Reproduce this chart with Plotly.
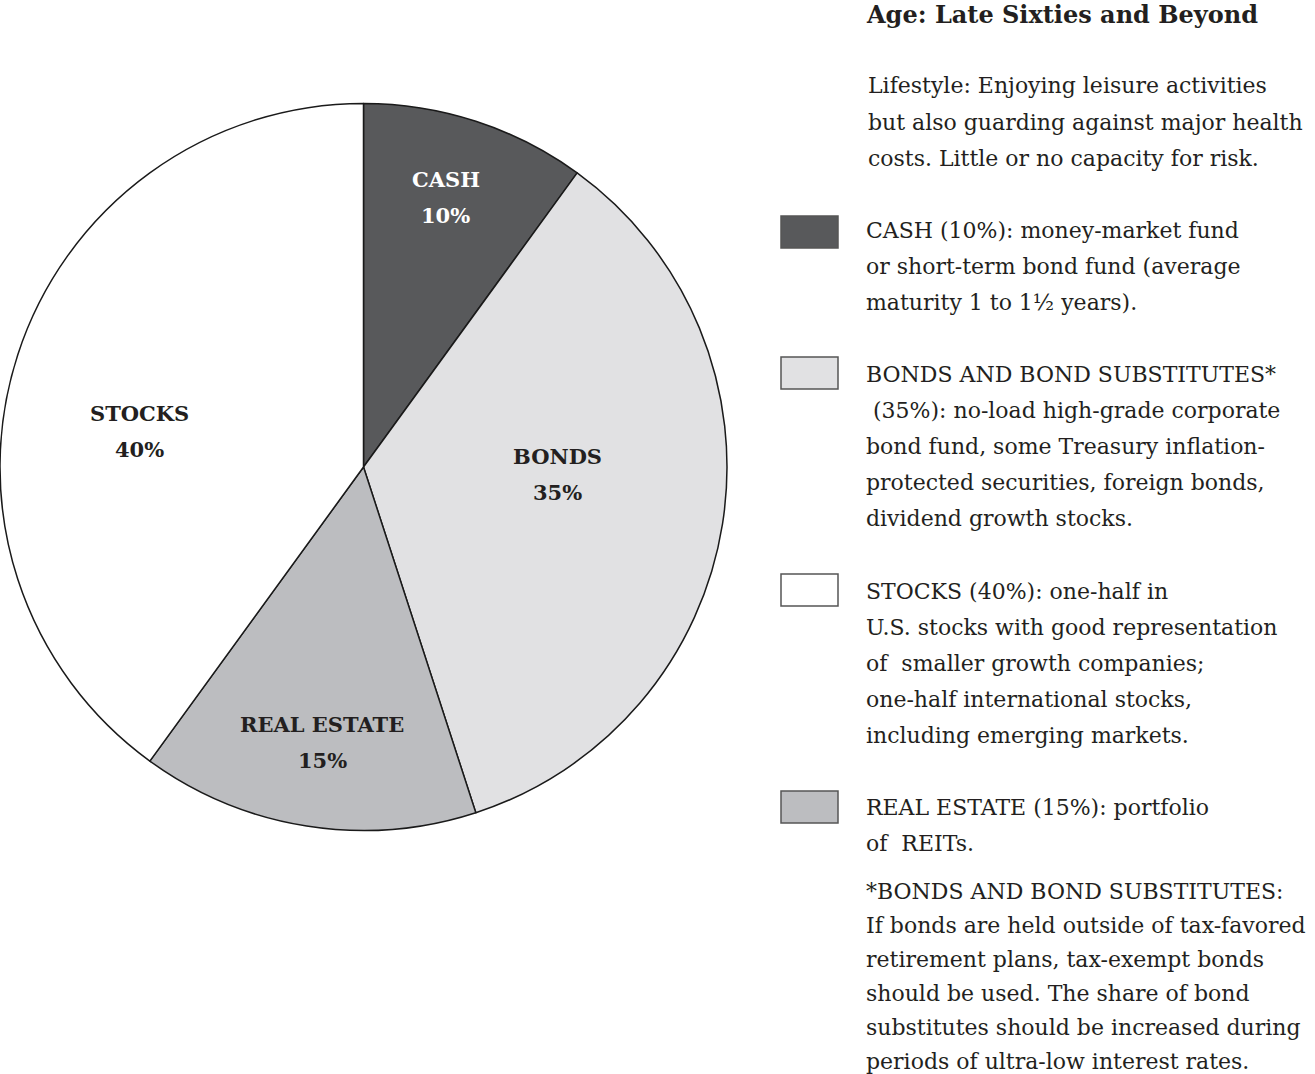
import math
import plotly.graph_objects as go

# ---- data ----
categories = ["CASH", "BONDS", "REAL ESTATE", "STOCKS"]
values = [10, 35, 15, 40]
colors = ["#58595b", "#e1e1e3", "#bcbdc0", "#ffffff"]

title_text = "Age: Late Sixties and Beyond"
lifestyle_lines = [
    "Lifestyle: Enjoying leisure activities",
    "but also guarding against major health",
    "costs. Little or no capacity for risk.",
]
legend_blocks = [
    ["CASH (10%): money-market fund",
     "or short-term bond fund (average",
     "maturity 1 to 1½ years)."],
    ["BONDS AND BOND SUBSTITUTES*",
     " (35%): no-load high-grade corporate",
     "bond fund, some Treasury inflation-",
     "protected securities, foreign bonds,",
     "dividend growth stocks."],
    ["STOCKS (40%): one-half in",
     "U.S. stocks with good representation",
     "of  smaller growth companies;",
     "one-half international stocks,",
     "including emerging markets."],
    ["REAL ESTATE (15%): portfolio",
     "of  REITs."],
]
legend_order = [0, 1, 3, 2]  # index into categories for each legend block
footnote_lines = [
    "*BONDS AND BOND SUBSTITUTES:",
    "If bonds are held outside of tax-favored",
    "retirement plans, tax-exempt bonds",
    "should be used. The share of bond",
    "substitutes should be increased during",
    "periods of ultra-low interest rates.",
]

# ---- layout / style constants ----
W, H = 1315, 1074
FONT = "DejaVu Serif"
TXT = "#231f20"
cx, cy, R = 363.5, 467, 363.5
label_r = [0.776, 0.534, 0.765, 0.624]       # label radius as fraction of R
label_dang = [-1.1, -6.9, -0.5, -9.1]        # angular offset from slice middle (deg)
BODY = 22


def py(y):
    return 1 - y / H


fig = go.Figure()
fig.add_trace(go.Pie(
    labels=categories, values=values, sort=False, direction="clockwise",
    rotation=0, marker=dict(colors=colors, line=dict(color="#1a1a1a", width=1.5)),
    textinfo="none", hoverinfo="label+percent", showlegend=False,
    domain=dict(x=[(cx - R) / W, (cx + R) / W], y=[py(cy + R), py(cy - R)]),
))

annotations = []
total = sum(values)
cum = 0
for i, (c, v) in enumerate(zip(categories, values)):
    mid = (cum + v / 2) / total * 360 + label_dang[i]
    cum += v
    a = math.radians(mid)
    lx = cx + label_r[i] * R * math.sin(a)
    ly = cy - label_r[i] * R * math.cos(a)
    col = "#ffffff" if i == 0 else TXT
    for txt, dy in ((c, -18), (f"{v}%", 18)):
        annotations.append(dict(
            x=lx / W, y=py(ly + dy), xref="paper", yref="paper", showarrow=False,
            xanchor="center", yanchor="middle", text=f"<b>{txt}</b>",
            font=dict(family=FONT, size=21, color=col)))


def add_line(text, x, y, size=BODY, bold=False):
    annotations.append(dict(
        x=x / W, y=py(y), xref="paper", yref="paper", showarrow=False,
        xanchor="left", yanchor="middle",
        text=f"<b>{text}</b>" if bold else text,
        font=dict(family=FONT, size=size, color=TXT)))


add_line(title_text, 864, 14, size=24, bold=True)
for k, t in enumerate(lifestyle_lines):
    add_line(t, 866, 86 + 36 * k)

block_tops = [230, 374, 591, 807]
swatch_tops = [216, 357, 574, 791]
shapes = []
for b, lines in enumerate(legend_blocks):
    for k, t in enumerate(lines):
        add_line(t, 864, block_tops[b] + 36.2 * k)
    ci = legend_order[b]
    shapes.append(dict(
        type="rect", xref="paper", yref="paper",
        x0=781 / W, x1=838 / W, y0=py(swatch_tops[b] + 32), y1=py(swatch_tops[b]),
        fillcolor=colors[ci], line=dict(color="#555555", width=1.5)))

for k, t in enumerate(footnote_lines):
    add_line(t, 864, 891 + 34 * k)

fig.update_layout(
    width=W, height=H, margin=dict(l=0, r=0, t=0, b=0),
    paper_bgcolor="white", plot_bgcolor="white",
    annotations=annotations, shapes=shapes,
)
fig.write_html("out.html", config={"displayModeBar": False},
               post_script="document.body.style.margin='0px';")
